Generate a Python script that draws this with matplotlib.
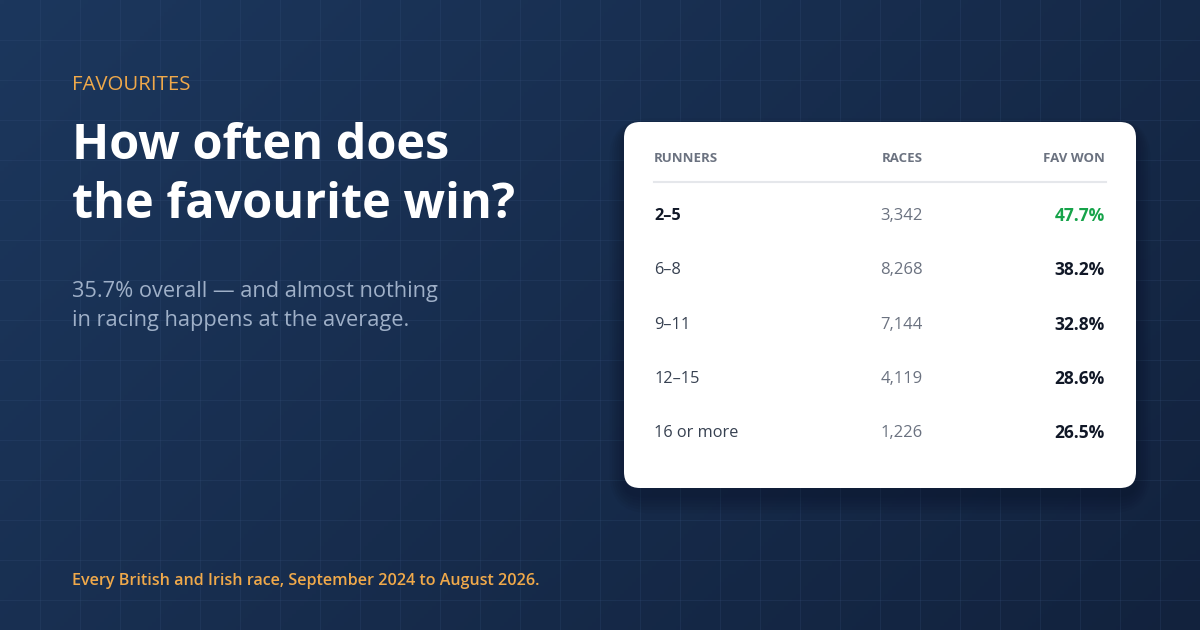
import numpy as np
import matplotlib.pyplot as plt
from matplotlib.patches import FancyBboxPatch

# data
runners = ['2–5', '6–8', '9–11', '12–15', '16 or more']
races = [3342, 8268, 7144, 4119, 1226]
fav_won = [47.7, 38.2, 32.8, 28.6, 26.5]
headers = ['RUNNERS', 'RACES', 'FAV WON']

kicker = 'FAVOURITES'
title = 'How often does\nthe favourite win?'
subtitle = '35.7% overall — and almost nothing\nin racing happens at the average.'
footer = 'Every British and Irish race, September 2024 to August 2026.'

plt.rcParams['font.family'] = ['Open Sans', 'DejaVu Sans']

W, H = 1200, 630
fig = plt.figure(figsize=(12, 6.3), dpi=100)
ax = fig.add_axes([0, 0, 1, 1])
ax.set_xlim(0, W)
ax.set_ylim(H, 0)
ax.axis('off')

# background gradient (lighter top-left, darker bottom-right)
yy, xx = np.mgrid[0:H:4, 0:W:4]
t = (xx / W * 0.65 + yy / H * 0.35)
c0 = np.array([0x1c, 0x37, 0x5d]) / 255
c1 = np.array([0x12, 0x22, 0x3d]) / 255
bg = c0[None, None, :] * (1 - t[..., None]) + c1[None, None, :] * t[..., None]
ax.imshow(bg, extent=[0, W, H, 0], aspect='auto', zorder=0)

# faint grid
for gx in range(40, W, 40):
    ax.axvline(gx, color='#3a5580', lw=0.7, alpha=0.22, zorder=1)
for gy in range(40, H, 40):
    ax.axhline(gy, color='#3a5580', lw=0.7, alpha=0.22, zorder=1)

# left text block
ax.text(72, 85, kicker, color='#f0a94a', fontsize=14.7, va='center', ha='left', zorder=3)
ax.text(72, 176, title, color='white', fontsize=35, fontweight='bold', va='center',
        ha='left', linespacing=1.28, zorder=3)
ax.text(72, 306, subtitle, color='#9fb0c8', fontsize=15.7, va='center', ha='left',
        linespacing=1.55, zorder=3)
ax.text(72, 581, footer, color='#f0a94a', fontsize=11.6, fontweight='semibold',
        va='center', ha='left', zorder=3)

# card with soft shadow
cx0, cy0, cw, ch = 624, 122, 512, 366
for i in range(6):
    off = 4 + i * 4
    sh = FancyBboxPatch((cx0 - off * 0.6, cy0 + 6 - off * 0.4), cw + off * 1.2, ch + off * 1.2,
                        boxstyle='round,pad=0,rounding_size=%d' % (16 + off),
                        fc='#050c1a', ec='none', alpha=0.05, zorder=2)
    ax.add_patch(sh)
card = FancyBboxPatch((cx0, cy0), cw, ch, boxstyle='round,pad=0,rounding_size=16',
                      fc='white', ec='none', zorder=3)
ax.add_patch(card)

col_x = [654, 923, 1105]
col_ha = ['left', 'right', 'right']
for hx, ha, lab in zip(col_x, col_ha, headers):
    ax.text(hx, 159, lab, color='#6b7280', fontsize=9.5, fontweight='bold', ha=ha,
            va='center', zorder=4)
ax.plot([654, 1106], [182, 182], color='#e5e7eb', lw=1.5, zorder=4)

row_y0, row_dy = 216, 54.3
best = int(np.argmax(fav_won))
for i, (r, n, p) in enumerate(zip(runners, races, fav_won)):
    y = row_y0 + i * row_dy
    ax.text(col_x[0], y, r, color='#111827' if i == best else '#374151', fontsize=11.8,
            fontweight='bold' if i == best else 'normal', ha='left', va='center', zorder=4)
    ax.text(col_x[1], y, f'{n:,}', color='#6b7280', fontsize=12, ha='right',
            va='center', zorder=4)
    ax.text(col_x[2], y, f'{p:.1f}%', color='#16a34a' if i == best else '#111827',
            fontsize=12.5, fontweight='bold', ha='right', va='center', zorder=4)

fig.savefig('out.png', dpi=100)
